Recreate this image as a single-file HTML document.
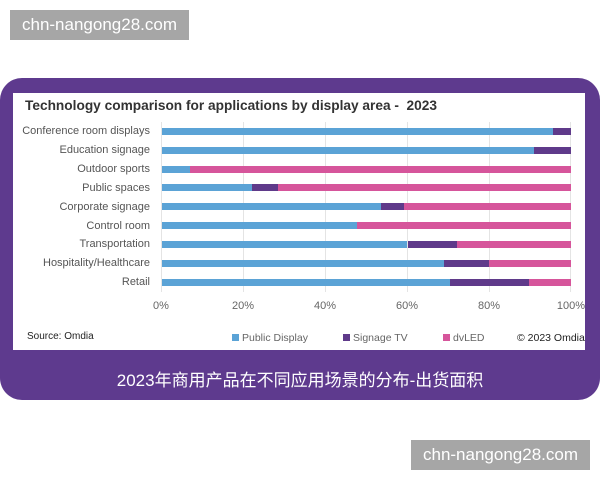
<!DOCTYPE html>
<html><head><meta charset="utf-8"><style>
*{margin:0;padding:0;box-sizing:border-box}
body{width:600px;height:480px;background:#fff;position:relative;overflow:hidden;font-family:"Liberation Sans","Noto Sans CJK SC",sans-serif}
.wm{position:absolute;background:#a6a6a6;color:#fff;font-size:17px;line-height:30px;text-align:center;width:179px;height:30px}
.frame{position:absolute;left:0;top:78px;width:600px;height:322px;background:#5e3a8e;border-radius:22px}
.panel{position:absolute;left:13px;top:93px;width:572px;height:257px;background:#fff}
.title{position:absolute;left:25px;top:98px;font-size:13.7px;font-weight:bold;color:#333}
.lab{position:absolute;right:450px;font-size:11px;color:#555;white-space:nowrap;line-height:12px}
.grid{position:absolute;top:122px;height:170px;width:1px;background:#e4e4e4}
.bar{position:absolute;height:7px}
.tick{position:absolute;top:300px;font-size:11px;color:#666;width:40px;text-align:center}
.leg{position:absolute;top:332px;font-size:10.5px;color:#666}
.sq{display:inline-block;width:7px;height:7px;margin-right:3px}
.cap{position:absolute;left:0;width:600px;top:366px;text-align:center;color:#fff;font-size:17px}
</style></head><body>
<div class="wm" style="left:10px;top:10px">chn-nangong28.com</div>
<div class="wm" style="left:411px;top:440px">chn-nangong28.com</div>
<div class="frame"></div>
<div class="panel"></div>
<div class="title">Technology comparison for applications by display area -&nbsp; 2023</div>
<div class="grid" style="left:161px"></div>
<div class="grid" style="left:243px"></div>
<div class="grid" style="left:325px"></div>
<div class="grid" style="left:407px"></div>
<div class="grid" style="left:489px"></div>
<div class="grid" style="left:570px"></div>
<div id="bars"></div>
<div class="tick" style="left:141px">0%</div>
<div class="tick" style="left:223px">20%</div>
<div class="tick" style="left:305px">40%</div>
<div class="tick" style="left:387px">60%</div>
<div class="tick" style="left:469px">80%</div>
<div class="tick" style="left:551px">100%</div>
<div class="leg" style="left:27px;top:331px;font-size:10px;color:#222">Source: Omdia</div>
<div class="leg" style="left:232px"><span class="sq" style="background:#5ba3d6"></span>Public Display</div>
<div class="leg" style="left:343px"><span class="sq" style="background:#5f3a8a"></span>Signage TV</div>
<div class="leg" style="left:443px"><span class="sq" style="background:#d6559b"></span>dvLED</div>
<div class="leg" style="left:517px;color:#222;font-size:10.5px">© 2023 Omdia</div>
<div class="cap">2023年商用产品在不同应用场景的分布-出货面积</div>
<script>
var rows=[["Conference room displays",95.7,100],["Education signage",91.0,100],["Outdoor sports",6.9,6.9],["Public spaces",22.2,28.4],["Corporate signage",53.6,59.3],["Control room",47.8,47.8],["Transportation",60.1,72.1],["Hospitality/Healthcare",69.0,80.1],["Retail",70.5,89.7]];
var x0=161.7,W=409,h='';
rows.forEach(function(r,i){var c=131.3+i*18.85;
h+='<div class="lab" style="top:'+(c-6)+'px">'+r[0]+'</div>';
h+='<div class="bar" style="left:'+x0+'px;top:'+(c-3.5)+'px;width:'+(W*r[1]/100)+'px;background:#5ba3d6"></div>';
if(r[2]>r[1])h+='<div class="bar" style="left:'+(x0+W*r[1]/100)+'px;top:'+(c-3.5)+'px;width:'+(W*(r[2]-r[1])/100)+'px;background:#5f3a8a"></div>';
if(r[2]<100)h+='<div class="bar" style="left:'+(x0+W*r[2]/100)+'px;top:'+(c-3.5)+'px;width:'+(W*(100-r[2])/100)+'px;background:#d6559b"></div>';
});
document.getElementById('bars').innerHTML=h;
</script>
</body></html>
